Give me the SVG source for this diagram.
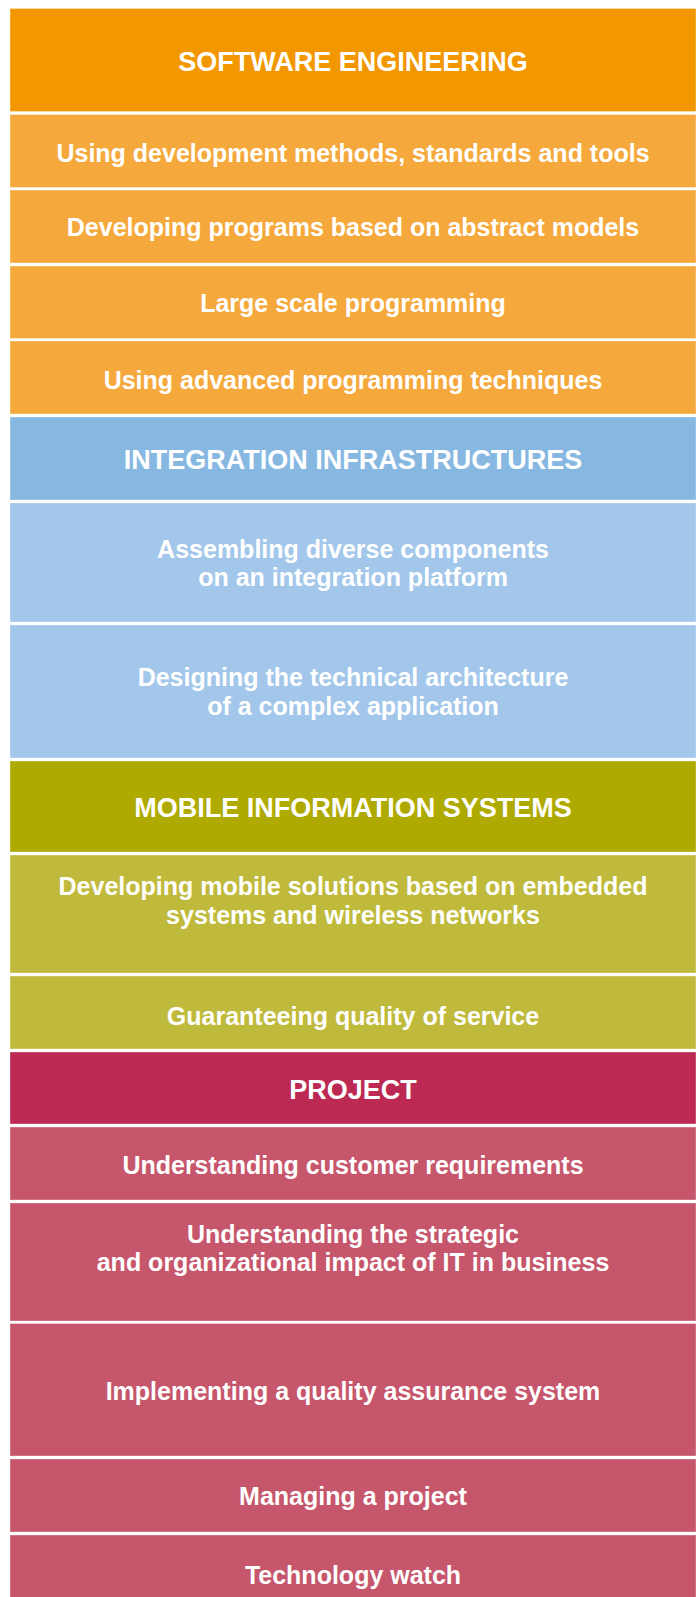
<svg xmlns="http://www.w3.org/2000/svg" width="700" height="1597" viewBox="0 0 700 1597">
<style>
rect{stroke:#ffffff;stroke-opacity:0.35;stroke-width:1}
text{font-family:"Liberation Sans",Arial,sans-serif;font-weight:bold;fill:#ffffff;text-anchor:middle}
.h{font-size:27px}
.i{font-size:25px}
.se-h{fill:#F39700}.se{fill:#F5A93D}
.ii-h{fill:#86B8E2}.ii{fill:#A3C7EA}
.mi-h{fill:#AFAA00}.mi{fill:#BFBA3B}
.pr-h{fill:#BC2952}.pr{fill:#C6566B}
</style>
<rect x="0" y="0" width="700" height="1597" fill="#ffffff" style="stroke:none"/>
<g id="se-header"><rect class="se-h" x="10" y="8.5" width="686" height="103"/><text class="h" x="353" y="70.5">SOFTWARE ENGINEERING</text></g>
<g id="se-1"><rect class="se" x="10" y="114.5" width="686" height="73"/><text class="i" x="353" y="161.5">Using development methods, standards and tools</text></g>
<g id="se-2"><rect class="se" x="10" y="190" width="686" height="73"/><text class="i" x="353" y="236">Developing programs based on abstract models</text></g>
<g id="se-3"><rect class="se" x="10" y="266" width="686" height="72.5"/><text class="i" x="353" y="311.5">Large scale programming</text></g>
<g id="se-4"><rect class="se" x="10" y="341" width="686" height="73"/><text class="i" x="353" y="389">Using advanced programming techniques</text></g>
<g id="ii-header"><rect class="ii-h" x="10" y="417" width="686" height="83"/><text class="h" x="353" y="469">INTEGRATION INFRASTRUCTURES</text></g>
<g id="ii-1"><rect class="ii" x="10" y="503" width="686" height="119"/><text class="i" x="353" y="557.5">Assembling diverse components</text><text class="i" x="353" y="585.5">on an integration platform</text></g>
<g id="ii-2"><rect class="ii" x="10" y="625" width="686" height="133"/><text class="i" x="353" y="686">Designing the technical architecture</text><text class="i" x="353" y="714.5">of a complex application</text></g>
<g id="mi-header"><rect class="mi-h" x="10" y="761" width="686" height="91"/><text class="h" x="353" y="816.5">MOBILE INFORMATION SYSTEMS</text></g>
<g id="mi-1"><rect class="mi" x="10" y="855" width="686" height="118"/><text class="i" x="353" y="895">Developing mobile solutions based on embedded</text><text class="i" x="353" y="923.5">systems and wireless networks</text></g>
<g id="mi-2"><rect class="mi" x="10" y="976" width="686" height="73"/><text class="i" x="353" y="1025">Guaranteeing quality of service</text></g>
<g id="pr-header"><rect class="pr-h" x="10" y="1052" width="686" height="72"/><text class="h" x="353" y="1099">PROJECT</text></g>
<g id="pr-1"><rect class="pr" x="10" y="1127" width="686" height="73"/><text class="i" x="353" y="1173.5">Understanding customer requirements</text></g>
<g id="pr-2"><rect class="pr" x="10" y="1203" width="686" height="118"/><text class="i" x="353" y="1242.5">Understanding the strategic</text><text class="i" x="353" y="1270.5">and organizational impact of IT in business</text></g>
<g id="pr-3"><rect class="pr" x="10" y="1323.5" width="686" height="132.5"/><text class="i" x="353" y="1400">Implementing a quality assurance system</text></g>
<g id="pr-4"><rect class="pr" x="10" y="1459" width="686" height="73"/><text class="i" x="353" y="1504.5">Managing a project</text></g>
<g id="pr-5"><rect class="pr" x="10" y="1535" width="686" height="70"/><text class="i" x="353" y="1584">Technology watch</text></g>
</svg>
